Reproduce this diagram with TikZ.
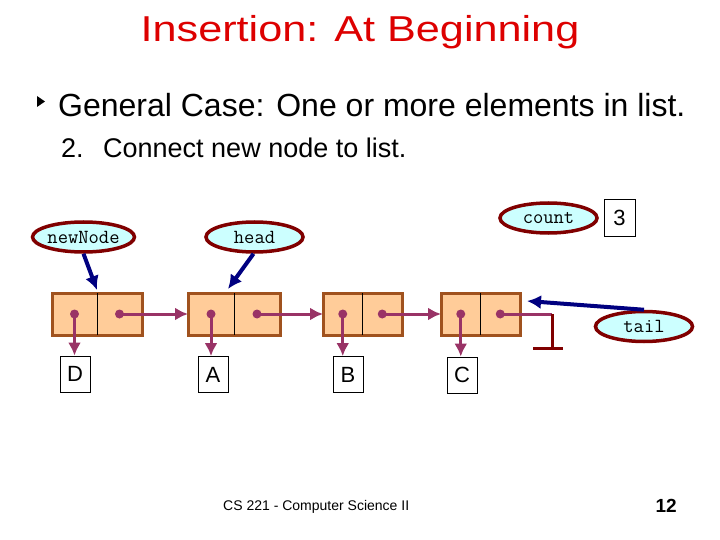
\documentclass[tikz,border=0pt]{standalone}
\usepackage{fontspec}
\usepackage{graphicx}
\setmainfont{Liberation Sans}
\usetikzlibrary{shapes.geometric, arrows.meta, positioning, calc}
\definecolor{TitleRed}{RGB}{221, 0, 0}
\definecolor{CellFill}{RGB}{255, 204, 153}
\definecolor{CellEdge}{RGB}{160, 82, 30}
\definecolor{LinkPurple}{RGB}{153, 51, 102}
\definecolor{OvalFill}{RGB}{204, 255, 255}
\definecolor{OvalEdge}{RGB}{128, 0, 0}
\definecolor{RefBlue}{RGB}{0, 0, 128}

\begin{document}
\begin{tikzpicture}[x=1pt, y=-1pt,
    cell/.style={draw=CellEdge, fill=CellFill, line width=3pt, minimum height=42pt, inner sep=0pt, outer sep=0pt},
    valbox/.style={draw=black, thick, minimum width=30pt, minimum height=36pt, inner sep=0pt, font=\fontsize{22}{24}\selectfont},
    oval/.style={ellipse, draw=OvalEdge, fill=OvalFill, line width=3.5pt, minimum width=97pt, minimum height=30pt, inner sep=0pt, font=\fontsize{20}{22}\selectfont\ttfamily},
    link/.style={draw=LinkPurple, line width=3pt, -{Latex[length=13pt, width=13pt]}},
    ref/.style={draw=RefBlue, line width=4pt, -{Latex[length=14pt, width=14pt]}}]
    \useasboundingbox (0,0) rectangle (720,540);

    % heading and text
    \node[anchor=base, text=TitleRed] (title) at (360,42) {\scalebox{1.2}[1]{\fontsize{36}{40}\selectfont Insertion: At Beginning}};
    \fill (37,96) -- (45,101.5) -- (37,107) -- cycle;
    \node[anchor=base west, inner sep=0pt] (general) at (58,117) {\fontsize{32}{36}\selectfont General Case: One or more elements in list.};
    \node[anchor=base west, inner sep=0pt] (stepnum) at (61,158) {\fontsize{27}{30}\selectfont 2.};
    \node[anchor=base west, inner sep=0pt] (steptext) at (103,158) {\fontsize{27}{30}\selectfont Connect new node to list.};

    % list nodes
    \node[cell, minimum width=90pt] (n1) at (97,314) {};
    \node[cell, minimum width=92pt] (n2) at (234,314) {};
    \node[cell, minimum width=79pt] (n3) at (362.5,314) {};
    \node[cell, minimum width=79pt] (n4) at (480.5,314) {};
    \foreach \n in {n1,n2,n3,n4} {
        \draw[black, thin] (\n.north) -- (\n.south);
    }

    % values
    \node[valbox] (vD) at (75,374) {D};
    \node[valbox] (vA) at (213,374.5) {A};
    \node[valbox] (vB) at (348,374.5) {B};
    \node[valbox] (vC) at (462,375) {C};

    % pointer cells
    \foreach \n/\v in {n1/vD, n2/vA, n3/vB, n4/vC} {
        \coordinate (\n-data) at ($(\n.west)!0.25!(\n.east)$);
        \coordinate (\n-next) at ($(\n.west)!0.75!(\n.east)$);
        \fill[LinkPurple] (\n-data) circle (4.5pt);
        \fill[LinkPurple] (\n-next) circle (4.5pt);
        \draw[link] (\n-data) -- (\n-data |- \v.north);
    }
    \draw[link] (n1-next) -- (n2.west);
    \draw[link] (n2-next) -- (n3.west);
    \draw[link] (n3-next) -- (n4.west);

    % null end
    \coordinate (nullbend) at (552,314);
    \coordinate (nullfoot) at (552,348);
    \draw[LinkPurple, line width=3pt] (n4-next) -- (nullbend);
    \draw[OvalEdge, line width=3pt] (nullbend) -- (nullfoot);
    \draw[OvalEdge, line width=3pt] ([xshift=-19pt]nullfoot) -- ([xshift=11pt]nullfoot);

    % reference variables
    \node[oval] (newNode) at (83.5,237) {newNode};
    \node[oval] (head) at (254.5,237) {head};
    \node[oval] (count) at (548.5,218) {count};
    \node[valbox, minimum width=31pt, minimum height=37pt] (countval) at (619.5,217.5) {3};
    \node[oval] (tail) at (644,326.5) {tail};

    \draw[ref] (newNode.south) -- ([yshift=3pt]n1.north);
    \draw[ref] ([xshift=-1pt]head.south) -- ([xshift=-6pt, yshift=4pt]n2.north);
    \draw[ref] (tail.north) -- ([xshift=7pt, yshift=-8pt]n4.north east);

    % footer
    \node[anchor=base west, inner sep=0pt] (footer) at (223,510) {\fontsize{14}{16}\selectfont CS 221 - Computer Science II};
    \node[anchor=base east, inner sep=0pt] (pagenum) at (677,512) {\fontsize{19}{21}\selectfont\bfseries 12};
\end{tikzpicture}
\end{document}
